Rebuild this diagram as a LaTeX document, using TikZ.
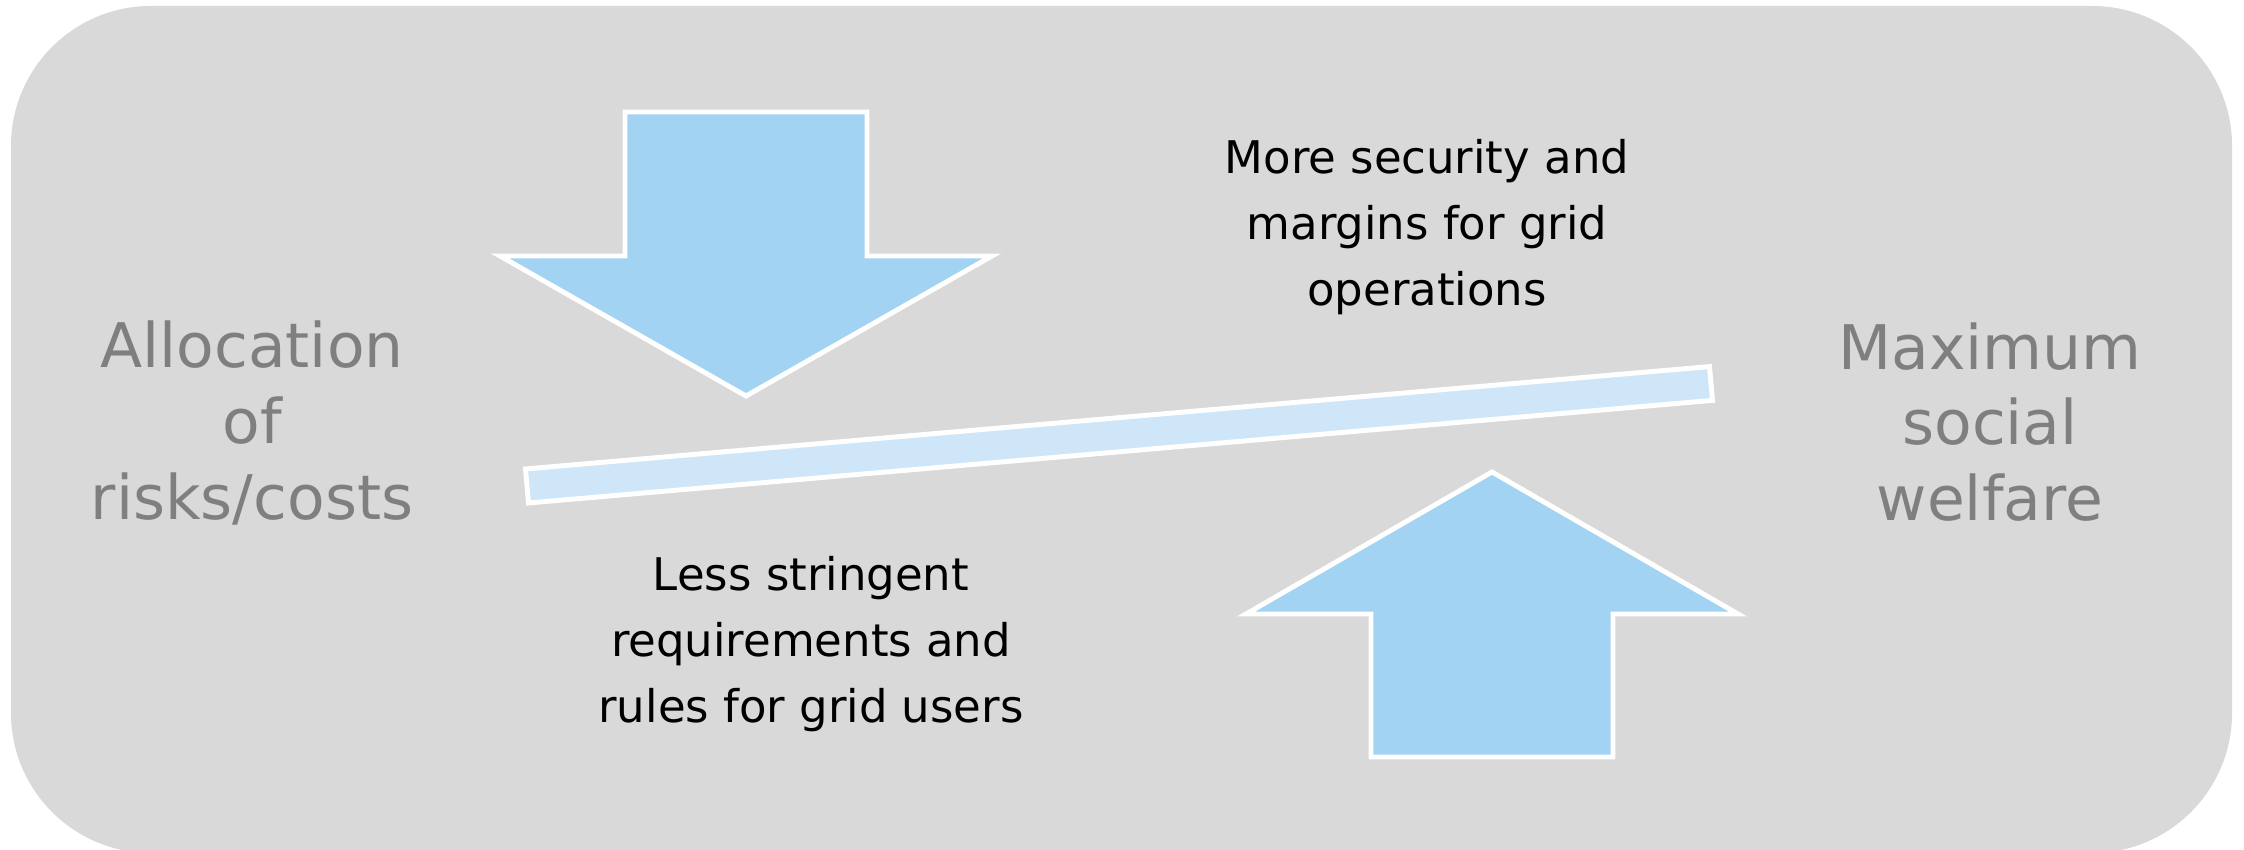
\documentclass[tikz,border=0pt]{standalone}
\usepackage{fontspec}
\setmainfont{DejaVu Sans}
\definecolor{panelgray}{HTML}{D9D9D9}
\definecolor{arrowblue}{HTML}{A3D3F3}
\definecolor{beamblue}{HTML}{CFE5F8}
\definecolor{sidegray}{HTML}{7F7F7F}

\begin{document}
\begin{tikzpicture}[
		bigarrow/.style={fill=arrowblue,draw=white,line width=1.4pt,line join=miter},
		beam/.style={fill=beamblue,draw=white,line width=1.4pt},
		sidetext/.style={align=center,text=sidegray,inner sep=0pt,font=\fontsize{17.5}{21.55}\selectfont},
		effect/.style={align=center,text=black,inner sep=0pt,font=\fontsize{12.8}{18.67}\selectfont}]
		\useasboundingbox (0,0) rectangle (22.44,8.5);
		\fill [panelgray,rounded corners=1.4cm] (0.11,-0.03) rectangle (22.32,8.44);
		
		% arrow pressing down
		\draw [bigarrow] (6.25,7.38)--(8.67,7.38)--(8.67,5.94)--(9.92,5.94)--(7.46,4.54)--(5.00,5.94)--(6.25,5.94)--cycle;
		% arrow pushing up
		\draw [bigarrow] (13.71,0.93)--(16.13,0.93)--(16.13,2.36)--(17.38,2.36)--(14.92,3.78)--(12.46,2.36)--(13.71,2.36)--cycle;
		% tilted beam
		\draw [beam] (5.255,3.81)--(5.285,3.47)--(17.125,4.496)--(17.095,4.834)--cycle;
		
		\node (alloc) at (2.52,4.27) [sidetext] {Allocation\\of\\risks/costs};
		\node (welfare) at (19.90,4.28) [sidetext] {Maximum\\social\\welfare};
		\node (security) at (14.27,6.23) [effect] {More security and\\margins for grid\\operations};
		\node (rules) at (8.11,2.06) [effect] {Less stringent\\requirements and\\rules for grid users};
	\end{tikzpicture}
\end{document}
